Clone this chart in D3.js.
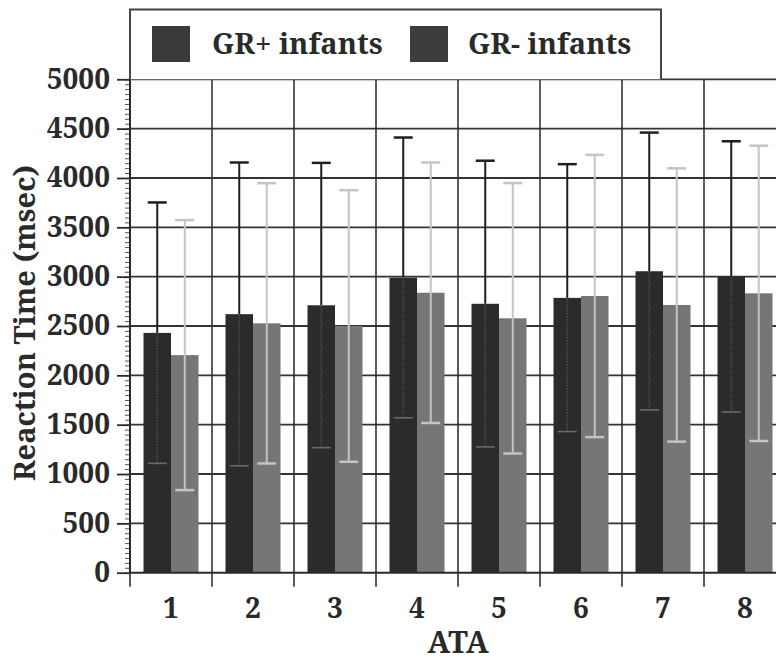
<!DOCTYPE html>
<html>
<head>
<meta charset="utf-8">
<script src="https://cdn.jsdelivr.net/npm/d3@7"></script>
<style>
  html, body { margin: 0; padding: 0; background: #fff; }
  svg { display: block; }
</style>
</head>
<body>
<svg id="chart" width="776" height="662"></svg>
<script>
// ---- data ----
const categories = ["1", "2", "3", "4", "5", "6", "7", "8"];
const seriesNames = ["GR+ infants", "GR- infants"];
const grPlusMean = [2430, 2620, 2710, 2990, 2725, 2785, 3055, 3000];
const grPlusSD   = [1322, 1537, 1443, 1420, 1450, 1355, 1405, 1372];
const grMinusMean = [2205, 2527, 2500, 2837, 2578, 2804, 2713, 2831];
const grMinusSD   = [1368, 1420, 1376, 1320, 1370, 1430, 1385, 1496];
const yTicks = [0, 500, 1000, 1500, 2000, 2500, 3000, 3500, 4000, 4500, 5000];

// ---- layout ----
const FONT = '"Noto Serif", "Liberation Serif", serif';
const TXT = "#2a2a2a";
const svg = d3.select("#chart");
const pLeft = 130, pRight = 786, pTop = 79.3, pBottom = 572.7;
const colors = ["#2b2b2b", "#767676"];
const swatchColors = ["#3a3a3a", "#3d3d3d"];

function styleText(sel, size) {
  return sel.style("font-family", FONT).style("font-weight", "bold")
    .style("font-size", size + "px").style("fill", TXT);
}

const x0 = d3.scaleBand().domain(categories).range([pLeft, pRight]).padding(0);
const bw = x0.bandwidth();
const x1 = d3.scaleBand().domain(seriesNames).range([13.5, bw - 13.5]).padding(0);
const y = d3.scaleLinear().domain([0, 5000]).range([pBottom, pTop]);

const rows = categories.map((c, i) => ({
  cat: c,
  vals: [
    { s: seriesNames[0], k: 0, mean: grPlusMean[i], sd: grPlusSD[i] },
    { s: seriesNames[1], k: 1, mean: grMinusMean[i], sd: grMinusSD[i] }
  ]
}));

// horizontal gridlines
svg.append("g").selectAll("line").data(yTicks.filter(d => d > 0)).join("line")
  .attr("x1", pLeft).attr("x2", pRight)
  .attr("y1", d => y(d)).attr("y2", d => y(d))
  .attr("stroke", "#333").attr("stroke-width", 1.8);

// vertical gridlines at band boundaries (extend below axis as ticks)
const bounds = categories.map(c => x0(c)).concat([pRight]);
svg.append("g").selectAll("line").data(bounds.slice(1)).join("line")
  .attr("x1", d => d).attr("x2", d => d)
  .attr("y1", pTop).attr("y2", pBottom + 14)
  .attr("stroke", "#333").attr("stroke-width", 1.6);

// bars
const groups = svg.append("g").selectAll("g").data(rows).join("g")
  .attr("transform", d => `translate(${x0(d.cat)},0)`);

groups.selectAll("rect").data(d => d.vals).join("rect")
  .attr("x", d => x1(d.s))
  .attr("width", x1.bandwidth())
  .attr("y", d => y(d.mean))
  .attr("height", d => y(0) - y(d.mean))
  .attr("fill", d => colors[d.k]);

// error bars
const capW = 19;
groups.each(function(row) {
  const g = d3.select(this);
  row.vals.forEach(v => {
    const cx = x1(v.s) + x1.bandwidth() / 2;
    const up = v.mean + v.sd, lo = v.mean - v.sd;
    if (v.k === 0) {
      g.append("line").attr("x1", cx).attr("x2", cx)
        .attr("y1", y(v.mean)).attr("y2", y(up))
        .attr("stroke", "#1e1e1e").attr("stroke-width", 2);
      g.append("line").attr("x1", cx - capW / 2).attr("x2", cx + capW / 2)
        .attr("y1", y(up)).attr("y2", y(up))
        .attr("stroke", "#1e1e1e").attr("stroke-width", 2.5);
      g.append("line").attr("x1", cx).attr("x2", cx)
        .attr("y1", y(v.mean)).attr("y2", y(lo))
        .attr("stroke", "#5a5a5a").attr("stroke-width", 1.2)
        .attr("stroke-dasharray", "1.5,1.5");
      g.append("line").attr("x1", cx - capW / 2).attr("x2", cx + capW / 2)
        .attr("y1", y(lo)).attr("y2", y(lo))
        .attr("stroke", "#6a6a6a").attr("stroke-width", 1.6);
    } else {
      g.append("line").attr("x1", cx).attr("x2", cx)
        .attr("y1", y(lo)).attr("y2", y(up))
        .attr("stroke", "#c4c4c4").attr("stroke-width", 2);
      [up, lo].forEach(val => {
        g.append("line").attr("x1", cx - capW / 2).attr("x2", cx + capW / 2)
          .attr("y1", y(val)).attr("y2", y(val))
          .attr("stroke", "#c4c4c4").attr("stroke-width", 2.5);
      });
    }
  });
});

// x axis line
svg.append("line").attr("x1", pLeft).attr("x2", pRight)
  .attr("y1", pBottom).attr("y2", pBottom)
  .attr("stroke", "#2a2a2a").attr("stroke-width", 2);
svg.append("line").attr("x1", pLeft).attr("x2", pLeft)
  .attr("y1", pBottom).attr("y2", pBottom + 14)
  .attr("stroke", "#333").attr("stroke-width", 1.6);

// y axis with major/minor ticks
const yAxisG = svg.append("g").attr("transform", `translate(${pLeft},0)`);
yAxisG.append("g")
  .call(d3.axisLeft(y).tickValues(d3.range(0, 5001, 50)).tickFormat("").tickSize(5).tickSizeOuter(0))
  .call(g => g.select(".domain").remove())
  .call(g => g.selectAll(".tick line").attr("stroke", "#555").attr("stroke-width", 1));
yAxisG.append("g")
  .call(d3.axisLeft(y).tickValues(yTicks).tickFormat(d3.format("d")).tickSize(13).tickPadding(7).tickSizeOuter(0))
  .call(g => g.select(".domain").remove())
  .call(g => g.selectAll(".tick line").attr("stroke", "#2a2a2a").attr("stroke-width", 1.8))
  .call(g => styleText(g.selectAll(".tick text"), 28));
svg.append("line").attr("x1", pLeft).attr("x2", pLeft)
  .attr("y1", pTop).attr("y2", pBottom)
  .attr("stroke", "#2a2a2a").attr("stroke-width", 2);

// x tick labels
styleText(svg.append("g").selectAll("text").data(categories).join("text")
  .attr("x", d => x0(d) + bw / 2)
  .attr("y", 618)
  .attr("text-anchor", "middle")
  .text(d => d), 28);

// axis titles
styleText(svg.append("text")
  .attr("x", (pLeft + pRight) / 2).attr("y", 653)
  .attr("text-anchor", "middle")
  .text("ATA"), 30);
styleText(svg.append("text")
  .attr("transform", "translate(35,323) rotate(-90)")
  .attr("text-anchor", "middle")
  .text("Reaction Time (msec)"), 29);

// legend
const leg = svg.append("g");
leg.append("path")
  .attr("d", `M${pLeft},${pTop} L${pLeft},9.5 L661,9.5 L661,${pTop}`)
  .attr("fill", "#fff").attr("stroke", "#444").attr("stroke-width", 2);
const legX = [152, 410];
const legTX = [212, 468];
seriesNames.forEach((s, i) => {
  leg.append("rect").attr("x", legX[i]).attr("y", 26).attr("width", 38).attr("height", 36)
    .attr("fill", swatchColors[i]);
  styleText(leg.append("text").attr("x", legTX[i]).attr("y", 54).text(s), 29);
});
</script>
</body>
</html>
